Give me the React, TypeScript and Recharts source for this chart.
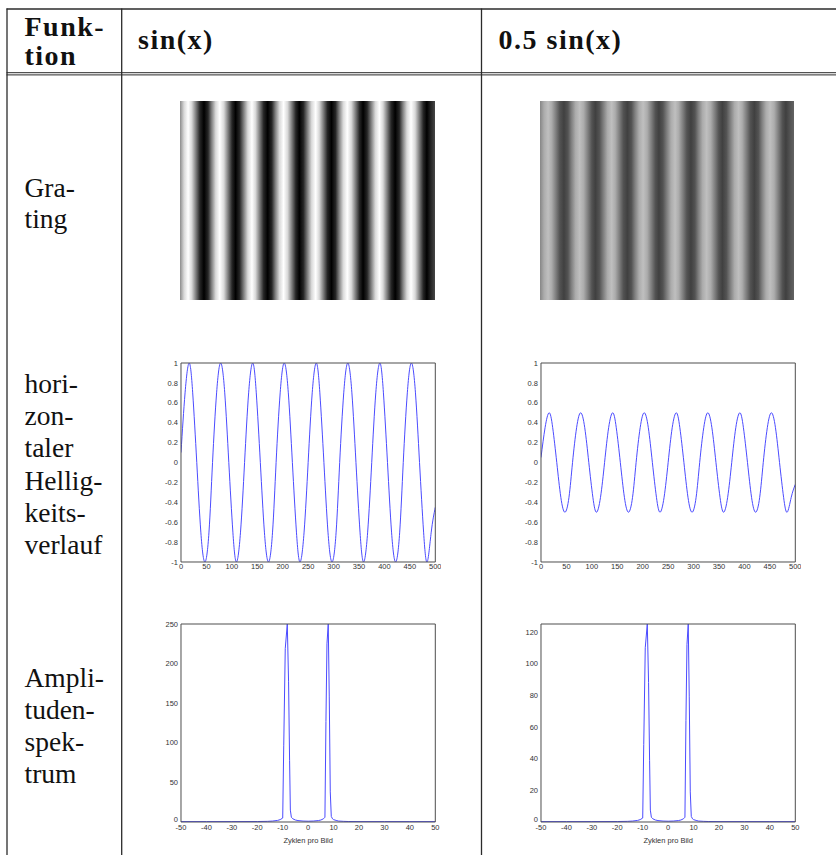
import React from 'react';
import { LineChart, Line, XAxis, YAxis, ReferenceArea } from 'recharts';

// ---------- data ----------
const lineX = [
  0, 8, 16, 23, 31, 39, 47, 55,
  62, 70, 78, 86, 94, 102, 109, 117,
  125, 133, 141, 148, 156, 164, 172, 180,
  187, 195, 203, 211, 219, 227, 234, 242,
  250, 258, 266, 273, 281, 289, 297, 305,
  312, 320, 328, 336, 344, 352, 359, 367,
  375, 383, 391, 398, 406, 414, 422, 430,
  437, 445, 453, 461, 469, 477, 484, 492,
  500,
];
const sinY = [
  0.1, 0.7, 1, 0.7, 0, -0.7, -1, -0.7,
  0, 0.7, 1, 0.7, 0, -0.7, -1, -0.7,
  0, 0.7, 1, 0.7, 0, -0.7, -1, -0.7,
  0, 0.7, 1, 0.7, 0, -0.7, -1, -0.7,
  0, 0.7, 1, 0.7, 0, -0.7, -1, -0.7,
  0, 0.7, 1, 0.7, 0, -0.7, -1, -0.7,
  0, 0.7, 1, 0.7, 0, -0.7, -1, -0.7,
  0, 0.7, 1, 0.7, 0, -0.7, -1, -0.7,
  -0.45,
];
const halfSinY = [
  0.05, 0.35, 0.5, 0.35, 0, -0.35, -0.5, -0.35,
  0, 0.35, 0.5, 0.35, 0, -0.35, -0.5, -0.35,
  0, 0.35, 0.5, 0.35, 0, -0.35, -0.5, -0.35,
  0, 0.35, 0.5, 0.35, 0, -0.35, -0.5, -0.35,
  0, 0.35, 0.5, 0.35, 0, -0.35, -0.5, -0.35,
  0, 0.35, 0.5, 0.35, 0, -0.35, -0.5, -0.35,
  0, 0.35, 0.5, 0.35, 0, -0.35, -0.5, -0.35,
  0, 0.35, 0.5, 0.35, 0, -0.35, -0.5, -0.35,
  -0.22,
];
const lineXTicks = [0, 50, 100, 150, 200, 250, 300, 350, 400, 450, 500];
const lineYTicks = [-1, -0.8, -0.6, -0.4, -0.2, 0, 0.2, 0.4, 0.6, 0.8, 1];

const specX = [
  -50, -40, -30, -20, -16, -14, -12, -11, -10,
  -9.6, -9.0, -8.2, -7.7, -7.3, -7.0, -6.6,
  -6, -5, -4, -2, 0, 2, 4, 5, 6,
  6.6, 7.0, 7.4, 7.9, 8.3, 8.7, 9.1, 9.6,
  10, 11, 12, 14, 16, 20, 30, 40, 50,
];
const specFull = [
  0.5, 0.5, 0.5, 0.6, 0.8, 1.2, 2, 3, 5,
  97, 219, 250, 177, 78, 15, 6,
  4, 2.5, 1.8, 1.2, 1, 1.2, 1.8, 2.5, 4,
  6, 127, 225, 250, 159, 38, 7, 4,
  3, 2, 1.2, 0.8, 0.6, 0.5, 0.5, 0.5, 0.5,
];
const specHalf = [
  0.25, 0.25, 0.25, 0.3, 0.4, 0.6, 1, 1.5, 2.5,
  49, 110, 125, 88, 39, 7.5, 3,
  2, 1.25, 0.9, 0.6, 0.5, 0.6, 0.9, 1.25, 2,
  3, 64, 112, 125, 79, 19, 3.5, 2,
  1.5, 1, 0.6, 0.4, 0.3, 0.25, 0.25, 0.25, 0.25,
];
const specXTicks = [-50, -40, -30, -20, -10, 0, 10, 20, 30, 40, 50];
const specYTicksFull = [0, 50, 100, 150, 200, 250];
const specYTicksHalf = [0, 20, 40, 60, 80, 100, 120];

const headerFirst = ['Funk-', 'tion'];
const headerLabels = ['sin(x)', '0.5 sin(x)'];
const rowGrating = ['Gra-', 'ting'];
const rowProfile = ['hori-', 'zon-', 'taler', 'Hellig-', 'keits-', 'verlauf'];
const rowSpectrum = ['Ampli-', 'tuden-', 'spek-', 'trum'];
const xAxisTitle = 'Zyklen pro Bild';

const lineFull = lineX.map((x, i) => ({ x, y: sinY[i] }));
const lineHalf = lineX.map((x, i) => ({ x, y: halfSinY[i] }));
const spFull = specX.map((x, i) => ({ x, y: specFull[i] }));
const spHalf = specX.map((x, i) => ({ x, y: specHalf[i] }));

// ---------- styles ----------
const AX = '#4d4d4d';
const BLUE = '#4a4aff';
const SANS = '"Liberation Sans", Arial, sans-serif';
const TICK = { fontSize: 7.5, fill: '#333', fontFamily: SANS };
const SERIF = '"Liberation Serif", "Times New Roman", serif';

type PlotProps = {
  left: number; top: number; w: number; h: number; data: any[];
  xDomain: [number, number]; yDomain: [number, number];
  xTicks: number[]; yTicks: number[]; xTitle?: string; curve: any; xMargin: number; raiseMin?: boolean;
};

function makeYTick(minVal: number, raise: boolean) {
  return (props: any) => {
    const { x, y, payload } = props;
    const lift = raise && payload.value === minVal ? -2.5 : 0;
    return (
      <text x={x} y={y + lift} dy="0.36em" textAnchor="end" fontSize={7.5} fill="#333" fontFamily={SANS}>
        {String(payload.value)}
      </text>
    );
  };
}

function Plot(p: PlotProps) {
  const yW = 28, mT = 5, mR = 6;
  const xH = p.xTitle ? 26 : 14;
  const common = { type: 'number' as const, allowDataOverflow: true, interval: 0 as const };
  return (
    <div style={{ position: 'absolute', left: p.left - yW, top: p.top - mT }}>
      <LineChart width={p.w + yW + mR} height={p.h + mT + xH} data={p.data}
        margin={{ top: mT, right: mR, bottom: 0, left: 0 }}>
        <XAxis xAxisId="b" dataKey="x" {...common} domain={p.xDomain} ticks={p.xTicks}
          tickLine={false} tickSize={0} tickMargin={p.xMargin} axisLine={{ stroke: AX }} tick={TICK} height={xH}
          label={p.xTitle ? { value: p.xTitle, position: 'insideBottom', offset: 5,
            style: { fontSize: 7.5, fill: '#333', fontFamily: SANS } } : undefined} />
        <YAxis yAxisId="l" {...common} domain={p.yDomain} ticks={p.yTicks}
          tickLine={false} tickSize={0} tickMargin={3} axisLine={{ stroke: AX }}
          tick={makeYTick(p.yDomain[0], !!p.raiseMin)} width={yW} />
        <XAxis xAxisId="t" dataKey="x" orientation="top" mirror {...common} domain={p.xDomain} ticks={p.xTicks}
          tick={false} tickSize={3} tickLine={{ stroke: AX }} axisLine={{ stroke: AX }} height={10} />
        <XAxis xAxisId="bm" dataKey="x" orientation="bottom" mirror {...common} domain={p.xDomain} ticks={p.xTicks}
          tick={false} tickSize={3} tickLine={{ stroke: AX }} axisLine={false} height={10} />
        <YAxis yAxisId="r" orientation="right" mirror {...common} domain={p.yDomain} ticks={p.yTicks}
          tick={false} tickSize={3} tickLine={{ stroke: AX }} axisLine={{ stroke: AX }} width={10} />
        <YAxis yAxisId="lm" orientation="left" mirror {...common} domain={p.yDomain} ticks={p.yTicks}
          tick={false} tickSize={3} tickLine={{ stroke: AX }} axisLine={false} width={10} />
        <Line xAxisId="b" yAxisId="l" dataKey="y" type={p.curve} stroke={BLUE} strokeWidth={1}
          dot={false} activeDot={false} isAnimationActive={false} />
      </LineChart>
    </div>
  );
}

function Grating({ left, top, w, h, data, gradId }: { left: number; top: number; w: number; h: number; data: any[]; gradId: string }) {
  return (
    <div style={{ position: 'absolute', left, top }}>
      <LineChart width={w} height={h} data={data} margin={{ top: 0, right: 0, bottom: 0, left: 0 }}>
        <XAxis dataKey="x" type="number" domain={[lineX[0], lineX[lineX.length - 1]]} hide allowDataOverflow />
        <YAxis type="number" domain={[-1, 1]} hide allowDataOverflow />
        <ReferenceArea x1={data[0].x} x2={data[data.length - 1].x} y1={-1} y2={1}
          fill={`url(#${gradId})`} fillOpacity={1} stroke="none" />
        <Line dataKey="y" stroke="none" strokeOpacity={0} dot={false} activeDot={false} isAnimationActive={false} />
      </LineChart>
    </div>
  );
}

function gray(v: number) {
  const c = Math.max(0, Math.min(255, Math.round(255 * (0.5 + 0.5 * v))));
  return `rgb(${c},${c},${c})`;
}

function Gradient({ id, values }: { id: string; values: number[] }) {
  const span = lineX[lineX.length - 1] - lineX[0];
  return (
    <linearGradient id={id} x1="0" y1="0" x2="1" y2="0">
      {lineX.map((x, i) => (
        <stop key={i} offset={(x - lineX[0]) / span} stopColor={gray(values[i])} />
      ))}
    </linearGradient>
  );
}

export default function App() {
  const LC = '#2b2b2b';
  const textProps = { fontFamily: SERIF, fontSize: 27.5, fill: '#111' };
  const boldProps = { fontFamily: SERIF, fontSize: 28, fontWeight: 700, fill: '#111', letterSpacing: 1.5 };
  return (
    <div style={{ position: 'absolute', left: 0, top: 0, width: 836, height: 855, overflow: 'hidden', background: '#fff' }}>
      <svg width={836} height={855} style={{ position: 'absolute', left: 0, top: 0 }}>
        <defs>
          <Gradient id="gradFull" values={sinY} />
          <Gradient id="gradHalf" values={halfSinY} />
        </defs>
        {/* table rules */}
        <line x1={6.5} x2={836} y1={9} y2={9} stroke={LC} strokeWidth={1.3} />
        <line x1={6.5} x2={836} y1={72.7} y2={72.7} stroke={LC} strokeWidth={1} />
        <line x1={6.5} x2={836} y1={74.9} y2={74.9} stroke={LC} strokeWidth={1} />
        <line x1={7} x2={7} y1={8.5} y2={855} stroke={LC} strokeWidth={1.3} />
        <line x1={121.7} x2={121.7} y1={8.5} y2={855} stroke={LC} strokeWidth={1.3} />
        <line x1={481.5} x2={481.5} y1={8.5} y2={855} stroke={LC} strokeWidth={1.3} />
        {/* header */}
        {headerFirst.map((t, i) => (
          <text key={t} x={24.5} y={36 + i * 29} {...boldProps}>{t}</text>
        ))}
        <text x={138} y={49} {...boldProps}>{headerLabels[0]}</text>
        <text x={498.5} y={49} {...boldProps}>{headerLabels[1]}</text>
        {/* row labels */}
        {rowGrating.map((t, i) => (
          <text key={t} x={24.5} y={197 + i * 31} {...textProps}>{t}</text>
        ))}
        {rowProfile.map((t, i) => (
          <text key={t} x={24.5} y={393 + i * 32.2} {...textProps}>{t}</text>
        ))}
        {rowSpectrum.map((t, i) => (
          <text key={t} x={24.5} y={687 + i * 32} {...textProps}>{t}</text>
        ))}
      </svg>

      <Grating left={180} top={101} w={255} h={199} data={lineFull} gradId="gradFull" />
      <Grating left={540} top={101} w={254} h={199} data={lineHalf} gradId="gradHalf" />

      <Plot left={180.7} top={362.7} w={254.3} h={199} data={lineFull} xDomain={[0, 500]} yDomain={[-1, 1]}
        xTicks={lineXTicks} yTicks={lineYTicks} curve="natural" xMargin={1.5} />
      <Plot left={540.7} top={362.7} w={254.3} h={199} data={lineHalf} xDomain={[0, 500]} yDomain={[-1, 1]}
        xTicks={lineXTicks} yTicks={lineYTicks} curve="natural" xMargin={1.5} />

      <Plot left={180.7} top={624} w={254.3} h={198} data={spFull} xDomain={[-50, 50]} yDomain={[0, 250]}
        xTicks={specXTicks} yTicks={specYTicksFull} xTitle={xAxisTitle} curve="linear" xMargin={2.5} raiseMin />
      <Plot left={540.7} top={624} w={254.3} h={198} data={spHalf} xDomain={[-50, 50]} yDomain={[0, 125]}
        xTicks={specXTicks} yTicks={specYTicksHalf} xTitle={xAxisTitle} curve="linear" xMargin={2.5} raiseMin />
    </div>
  );
}
